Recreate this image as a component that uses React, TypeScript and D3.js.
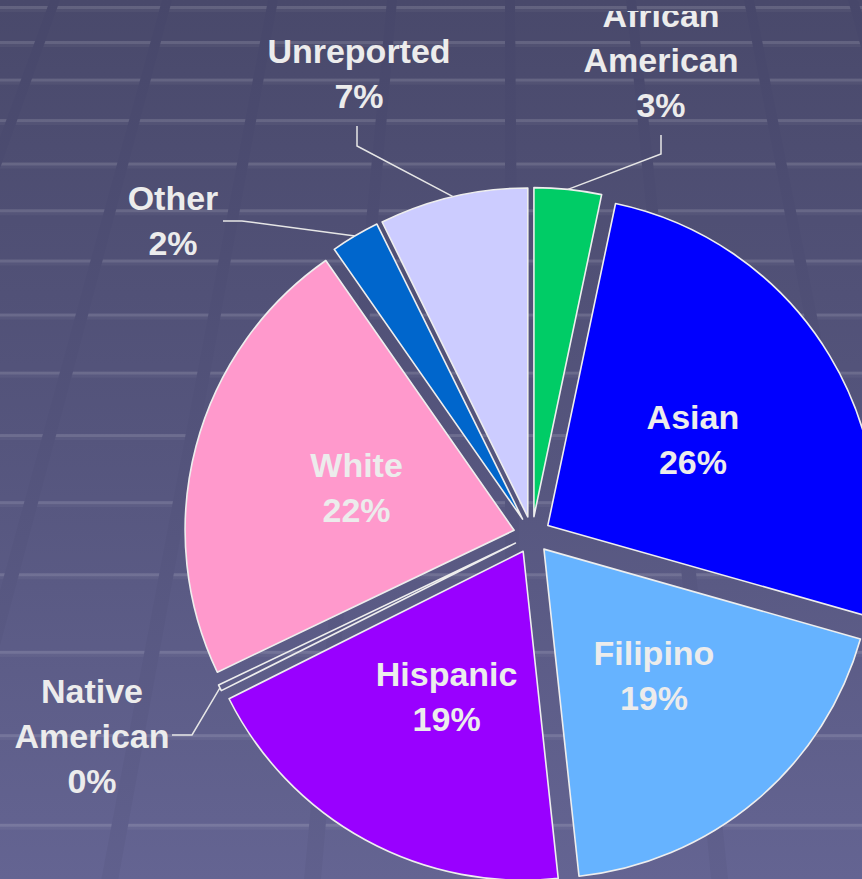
import * as d3 from 'd3'

// slice data, clockwise from 12 o'clock
const categories = ['African American', 'Asian', 'Filipino', 'Hispanic', 'Native American', 'White', 'Other', 'Unreported']
const shares = [3.3, 26.1, 18.9, 19.3, 0.3, 22.4, 2.4, 7.3]
const sliceColors = ['#00cc66', '#0000ff', '#66b3ff', '#9900ff', 'none', '#ff99cc', '#0066cc', '#ccccff']
const nameLines = [['African', 'American'], ['Asian'], ['Filipino'], ['Hispanic'], ['Native', 'American'], ['White'], ['Other'], ['Unreported']]
const insideLabel = [false, true, true, true, false, true, false, false]

// hand-placed labels (as on the slide) for the small slices
const OUTSIDE: Record<string, { x: number; y: number; elbow: [number, number]; end: [number, number] }> = {
  'African American': { x: 661, y: 27, elbow: [661, 154], end: [661, 135] },
  'Unreported': { x: 359, y: 63, elbow: [357, 146], end: [357, 126] },
  'Other': { x: 173, y: 210, elbow: [242, 221], end: [223, 221] },
  'Native American': { x: 92, y: 703, elbow: [192, 735], end: [172, 735] },
}

const W = 862
const H = 879
const CX = 532
const CY = 535
const R = 329
const EXPLODE = 18.5
const LINE_H = 45
const FONT = '"Liberation Sans", Arial, Helvetica, sans-serif'
const TEXT = '#ececec'

// background tile texture (slide template)
const BG_COLS = [55, 167, 273, 392, 510, 631, 749, 853]
const VX = 505
const K = 0.0008

function bgRows() {
  const rows: number[] = []
  let y = 7, step = 35
  while (y < H + 20) { rows.push(y); y += step; step *= 1.075 }
  return rows
}

export default function App() {
  const data = categories.map((name, i) => ({ name, value: shares[i], color: sliceColors[i], lines: nameLines[i], inside: insideLabel[i] }))
  const pie = d3.pie<typeof data[0]>().value(d => d.value).sort(null).startAngle(0).endAngle(2 * Math.PI)
  const arcs = pie(data)
  const arc = d3.arc<d3.PieArcDatum<typeof data[0]>>().innerRadius(0).outerRadius(R)

  const dir = (a: number) => [Math.sin(a), -Math.cos(a)]
  const rows = bgRows()
  const colX = (x0: number, y: number) => x0 + (x0 - VX) * K * y

  return (
    <svg width={W} height={H} style={{ position: 'absolute', left: 0, top: 0, display: 'block' }}>
      <defs>
        <linearGradient id="bg" x1="0" y1="0" x2="0" y2="1">
          <stop offset="0" stopColor="#49496b" />
          <stop offset="0.5" stopColor="#55557d" />
          <stop offset="1" stopColor="#646492" />
        </linearGradient>
        <linearGradient id="band" x1="0" y1="0" x2="0" y2="1">
          <stop offset="0" stopColor="#47476a" />
          <stop offset="0.5" stopColor="#53537b" />
          <stop offset="1" stopColor="#60608d" />
        </linearGradient>
        <clipPath id="labelClip">
          <rect x={0} y={11} width={W} height={H - 11} />
        </clipPath>
      </defs>

      <rect width={W} height={H} fill="url(#bg)" />
      <g>
        {rows.map((y, i) => (
          <g key={i}>
            <rect x={0} y={y - 1} width={W} height={3} fill="#ffffff" opacity={0.14} />
            <rect x={0} y={y + 2} width={W} height={3} fill="#ffffff" opacity={0.04} />
          </g>
        ))}
        {BG_COLS.map((x0, i) => {
          const w0 = 10, w1 = 10 * (1 + K * H)
          const p = [[colX(x0, 0) - w0 / 2, 0], [colX(x0, 0) + w0 / 2, 0], [colX(x0, H) + w1 / 2, H], [colX(x0, H) - w1 / 2, H]]
          return <polygon key={i} points={p.map(q => q.join(',')).join(' ')} fill="url(#band)" />
        })}
      </g>

      <g>
        {arcs.map((a, i) => {
          const mid = (a.startAngle + a.endAngle) / 2
          const [dx, dy] = dir(mid)
          return (
            <path key={i} d={arc(a) as string}
              transform={`translate(${CX + dx * EXPLODE},${CY + dy * EXPLODE})`}
              fill={a.data.color} stroke="#eeeeee" strokeWidth={1.6} strokeLinejoin="round" />
          )
        })}
      </g>

      <g clipPath="url(#labelClip)" fontFamily={FONT} fontWeight="bold" fontSize={34} fill={TEXT} textAnchor="middle">
        {arcs.map((a, i) => {
          const d = a.data
          const mid = (a.startAngle + a.endAngle) / 2
          const [dx, dy] = dir(mid)
          const pct = `${Math.round(d.value)}%`
          const lines = [...d.lines, pct]
          if (d.inside) {
            const rr = EXPLODE + 166
            const lx = CX + dx * rr + 3
            const ly = CY + dy * rr - 11
            return (
              <text key={i} x={lx} y={ly}>
                {lines.map((t, j) => <tspan key={j} x={lx} y={ly + j * LINE_H}>{t}</tspan>)}
              </text>
            )
          }
          const o = OUTSIDE[d.name]
          const start = [CX + dx * (EXPLODE + R), CY + dy * (EXPLODE + R)]
          return (
            <g key={i}>
              <polyline points={[start, o.elbow, o.end].map(q => q.join(',')).join(' ')}
                fill="none" stroke="#e6e6e6" strokeWidth={1.5} />
              <text x={o.x} y={o.y}>
                {lines.map((t, j) => <tspan key={j} x={o.x} y={o.y + j * LINE_H}>{t}</tspan>)}
              </text>
            </g>
          )
        })}
      </g>
    </svg>
  )
}
